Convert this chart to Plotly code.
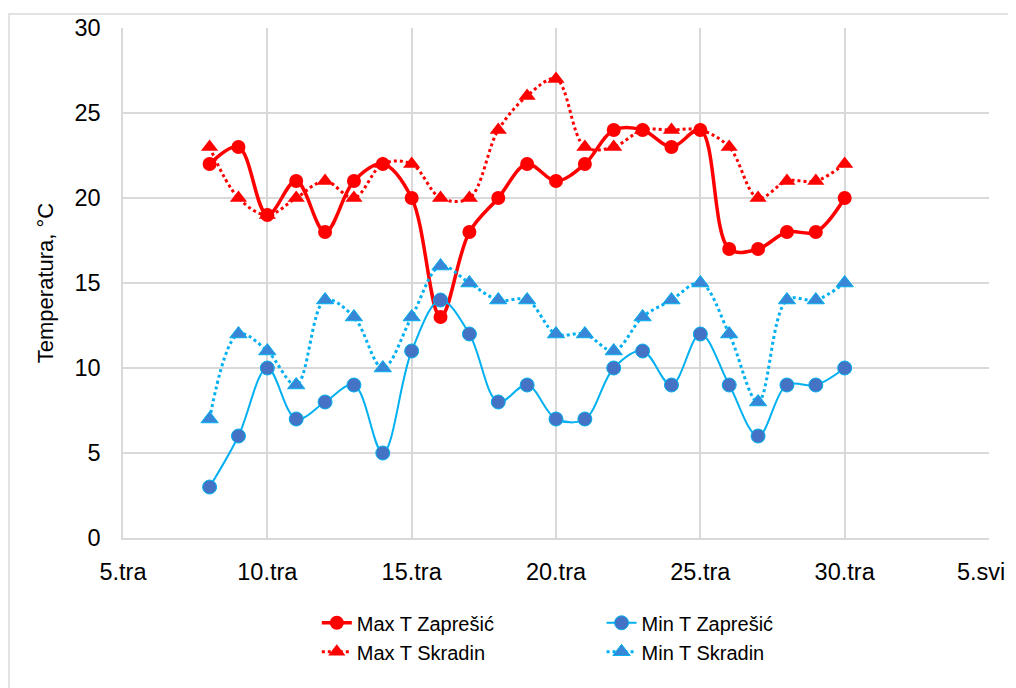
import plotly.graph_objects as go

days = list(range(8, 31))
tick_vals = [5, 10, 15, 20, 25, 30, 35]
tick_text = ["5.tra", "10.tra", "15.tra", "20.tra", "25.tra", "30.tra", "5.svi"]

max_zapresic = [22, 23, 19, 21, 18, 21, 22, 20, 13, 18, 20, 22, 21, 22, 24, 24, 23, 24, 17, 17, 18, 18, 20]
min_zapresic = [3, 6, 10, 7, 8, 9, 5, 11, 14, 12, 8, 9, 7, 7, 10, 11, 9, 12, 9, 6, 9, 9, 10]
max_skradin = [23, 20, 19, 20, 21, 20, 22, 22, 20, 20, 24, 26, 27, 23, 23, 24, 24, 24, 23, 20, 21, 21, 22]
min_skradin = [7, 12, 11, 9, 14, 13, 10, 13, 16, 15, 14, 14, 12, 12, 11, 13, 14, 15, 12, 8, 14, 14, 15]

RED = "#FF0000"
LBLUE = "#00B0F0"
DBLUE = "#4472C4"
FONT = "Liberation Sans, Arial, sans-serif"

fig = go.Figure()

fig.add_trace(go.Scatter(
    x=days, y=max_zapresic, name="Max T Zaprešić", mode="lines+markers",
    line=dict(color=RED, width=3.5, shape="spline", smoothing=1),
    marker=dict(symbol="circle", size=14, color=RED),
    legend="legend", legendgroup="a"))
fig.add_trace(go.Scatter(
    x=days, y=max_skradin, name="Max T Skradin", mode="lines+markers",
    line=dict(color=RED, width=3, dash="dot", shape="spline", smoothing=1),
    marker=dict(symbol="triangle-up", size=15, color=RED),
    legend="legend", legendgroup="b"))
fig.add_trace(go.Scatter(
    x=days, y=min_zapresic, name="Min T Zaprešić", mode="lines+markers",
    line=dict(color=LBLUE, width=2, shape="spline", smoothing=1),
    marker=dict(symbol="circle", size=14, color=DBLUE, line=dict(color=LBLUE, width=1)),
    legend="legend2", legendgroup="c"))
fig.add_trace(go.Scatter(
    x=days, y=min_skradin, name="Min T Skradin", mode="lines+markers",
    line=dict(color=LBLUE, width=3, dash="dot", shape="spline", smoothing=1),
    marker=dict(symbol="triangle-up", size=15, color="#3A86D6", line=dict(color=LBLUE, width=1)),
    legend="legend2", legendgroup="d"))

legend_common = dict(
    orientation="v", yanchor="top", xanchor="left",
    font=dict(family=FONT, size=20, color="#000000"),
    bgcolor="rgba(0,0,0,0)", tracegroupgap=13, traceorder="normal",
)

# the last tick label sits at the right edge; draw it as an annotation so it stays fully visible
axis_ticktext = tick_text[:-1] + [""]

fig.update_layout(
    width=1016, height=688,
    margin=dict(l=115, r=35, t=20, b=158, autoexpand=False),
    paper_bgcolor="white", plot_bgcolor="white",
    font=dict(family=FONT, size=20, color="#000000"),
    showlegend=True,
    legend=dict(x=0.2238, y=-0.128, **legend_common),
    legend2=dict(x=0.5526, y=-0.128, **legend_common),
    xaxis=dict(
        range=[5, 35], tickvals=tick_vals, ticktext=axis_ticktext,
        showgrid=True, gridcolor="#D9D9D9", gridwidth=1.5,
        showline=True, linecolor="#D9D9D9", linewidth=1.5,
        zeroline=False, ticks="", ticklabelstandoff=12, automargin=False,
        ticklabeloverflow="allow",
        tickfont=dict(family=FONT, size=23.5, color="#000000"),
    ),
    yaxis=dict(
        range=[0, 30], tickvals=[0, 5, 10, 15, 20, 25, 30],
        showgrid=True, gridcolor="#D9D9D9", gridwidth=1.5,
        showline=True, linecolor="#D9D9D9", linewidth=1.5,
        zeroline=False, ticks="", ticklabelstandoff=16, automargin=False,
        tickfont=dict(family=FONT, size=23.5, color="#000000"),
        title=dict(text="Temperatura, °C", font=dict(family=FONT, size=22, color="#000000"), standoff=15),
    ),
    annotations=[dict(
        x=tick_vals[-1], xref="x", y=0, yref="paper",
        text=tick_text[-1], showarrow=False,
        xanchor="right", yanchor="middle", xshift=18, yshift=-34,
        font=dict(family=FONT, size=23.5, color="#000000"),
    )],
    shapes=[dict(
        type="rect", xref="paper", yref="paper",
        x0=-114 / 866, x1=1.2,
        y0=-0.5, y1=1 + 14 / 510,
        line=dict(color="#D9D9D9", width=1.5), fillcolor="rgba(0,0,0,0)", layer="below",
    )],
)

fig.write_html("out.html")
